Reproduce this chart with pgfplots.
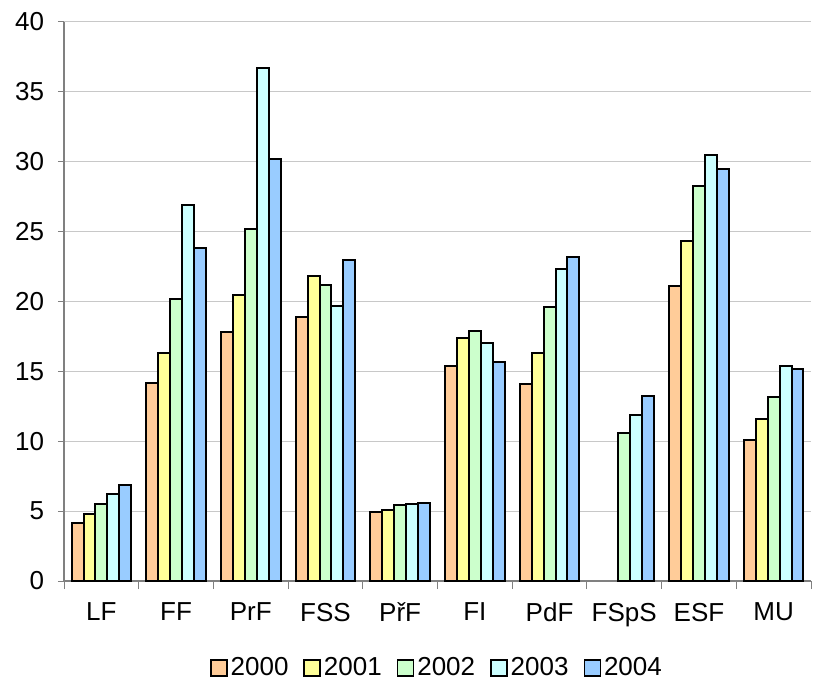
\documentclass[border=0pt]{standalone}
\usepackage{pgfplots}
\pgfplotsset{compat=1.18}
\usepackage{fontspec}
\setmainfont{Liberation Sans}
\definecolor{c2000}{HTML}{FFCC99}
\definecolor{c2001}{HTML}{FFFF99}
\definecolor{c2002}{HTML}{CCFFCC}
\definecolor{c2003}{HTML}{CCFFFF}
\definecolor{c2004}{HTML}{99CCFF}
\definecolor{axgray}{HTML}{808080}
\definecolor{gridgray}{HTML}{C8C8C8}
\begin{document}
\fontsize{26bp}{30bp}\selectfont
\begin{tikzpicture}
\begin{axis}[
  scale only axis, width=747bp, height=559bp,
  ybar=0pt, bar width=11.9bp,
  xmin=-0.5, xmax=9.5, ymin=0, ymax=40,
  xtick={0,...,9},
  xticklabels={LF,FF,PrF,FSS,PřF,FI,PdF,FSpS,ESF,MU},
  minor xtick={-0.5,0.5,...,9.5},
  ytick={0,5,...,40},
  ymajorgrids, grid style={color=gridgray, line width=1bp},
  axis x line*=bottom, axis y line*=left,
  axis line style={color=axgray, line width=1.2bp},
  tick style={color=axgray, line width=1bp},
  tick align=outside,
  major tick length=6bp, minor tick length=8bp,
  major x tick style={draw=none},
  /pgf/number format/assume math mode=true,
  ticklabel style={font=\fontsize{26bp}{30bp}\selectfont},
  xticklabel style={yshift=-7bp},
  yticklabel style={xshift=-5bp},
  legend style={at={(0.5,-0.156)}, anchor=center, legend columns=-1, draw=none,
    font=\fontsize{26bp}{30bp}\selectfont,
    nodes={inner xsep=3bp},
    /tikz/every odd column/.append style={column sep=0bp},
    /tikz/every even column/.append style={column sep=12bp}},
  legend image code/.code={\draw[#1, draw=black, line width=1.5bp] (0bp,-8bp) rectangle (16bp,8bp);},
]
\addplot[fill=c2000, draw=black, line width=2bp] coordinates {(0,4.13) (1,14.15) (2,17.8) (3,18.9) (4,4.95) (5,15.35) (6,14.1) (8,21.1) (9,10.1)};
\addplot[fill=c2001, draw=black, line width=2bp] coordinates {(0,4.8) (1,16.35) (2,20.5) (3,21.8) (4,5.1) (5,17.4) (6,16.3) (8,24.3) (9,11.6)};
\addplot[fill=c2002, draw=black, line width=2bp] coordinates {(0,5.49) (1,20.2) (2,25.2) (3,21.2) (4,5.45) (5,17.9) (6,19.6) (7,10.57) (8,28.3) (9,13.2)};
\addplot[fill=c2003, draw=black, line width=2bp] coordinates {(0,6.2) (1,26.9) (2,36.7) (3,19.7) (4,5.5) (5,17.05) (6,22.3) (7,11.9) (8,30.5) (9,15.4)};
\addplot[fill=c2004, draw=black, line width=2bp] coordinates {(0,6.85) (1,23.85) (2,30.2) (3,23.0) (4,5.6) (5,15.7) (6,23.2) (7,13.25) (8,29.5) (9,15.2)};
\legend{2000,2001,2002,2003,2004}
\end{axis}
\path (current axis.south west) ++(-64bp,-109bp) coordinate (bl);
\path (current axis.north east) ++(5bp,22bp) coordinate (tr);
\useasboundingbox (bl) rectangle (tr);
\end{tikzpicture}
\end{document}
